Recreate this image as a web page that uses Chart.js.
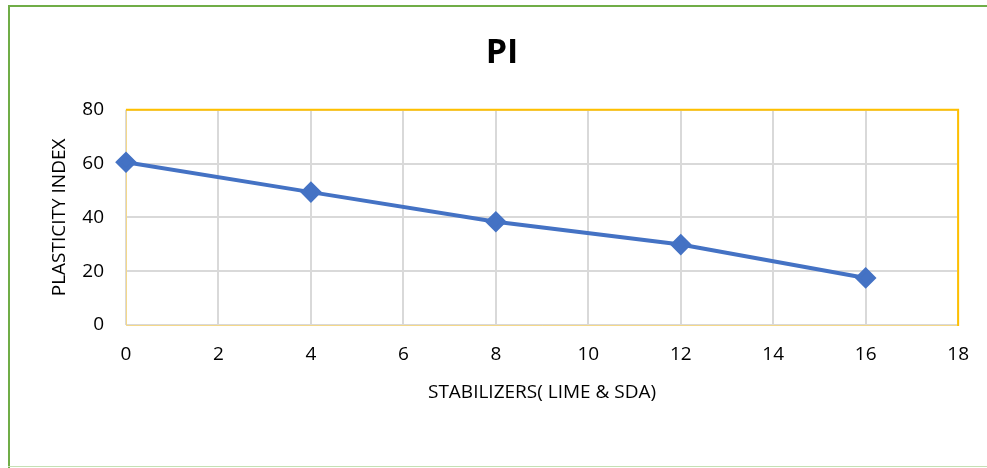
<!DOCTYPE html>
<html><head><meta charset="utf-8">
<script src="https://cdn.jsdelivr.net/npm/chart.js@4/dist/chart.umd.min.js"></script>
<style>html,body{margin:0;padding:0;background:#fff;}canvas{display:block;}</style>
</head><body>
<canvas id="c" width="987" height="468"></canvas>
<script>
const chartTitle = "PI";
const xAxisTitle = "STABILIZERS( LIME & SDA)";
const yAxisTitle = "PLASTICITY INDEX";
const stabilizers = [0, 4, 8, 12, 16];
const plasticityIndex = [60.5, 49.4, 38.4, 29.9, 17.5];
const xTicks = [0, 2, 4, 6, 8, 10, 12, 14, 16, 18];
const yTicks = [0, 20, 40, 60, 80];

const FONT = "'Open Sans', 'Noto Sans', sans-serif";

const framePlugin = {
  id: 'frame',
  beforeDraw(chart) {
    const ctx = chart.ctx;
    ctx.save();
    ctx.fillStyle = '#fff';
    ctx.fillRect(0, 0, chart.width, chart.height);
    ctx.fillStyle = '#70AD47';
    ctx.fillRect(8, 5, chart.width - 8, 2);
    ctx.fillRect(8, 5, 2, chart.height - 5);
    ctx.fillStyle = '#C5E0B4';
    ctx.fillRect(8, chart.height - 2, chart.width - 8, 1);
    ctx.restore();
  },
  beforeDatasetsDraw(chart) {
    const a = chart.chartArea;
    const ctx = chart.ctx;
    ctx.save();
    ctx.lineWidth = 1;
    ctx.strokeStyle = '#F4D88A';
    ctx.beginPath();
    ctx.moveTo(a.left + 0.5, a.top);
    ctx.lineTo(a.left + 0.5, a.bottom + 0.5);
    ctx.lineTo(a.right, a.bottom + 0.5);
    ctx.stroke();
    ctx.lineWidth = 2;
    ctx.strokeStyle = '#FFC000';
    ctx.beginPath();
    ctx.moveTo(a.left, a.top);
    ctx.lineTo(a.right, a.top);
    ctx.lineTo(a.right, a.bottom + 1);
    ctx.stroke();
    ctx.restore();
  }
};

new Chart(document.getElementById('c'), {
  type: 'line',
  data: {
    datasets: [{
      data: stabilizers.map((x, i) => ({x: x, y: plasticityIndex[i]})),
      borderColor: '#4472C4',
      backgroundColor: '#4472C4',
      borderWidth: 4,
      pointStyle: 'rectRot',
      pointRadius: 8,
      pointHoverRadius: 8,
      tension: 0,
      fill: false,
      clip: false
    }]
  },
  options: {
    responsive: false,
    animation: false,
    devicePixelRatio: 1,
    layout: { padding: { left: 44, right: 27, top: 0, bottom: 62 } },
    plugins: {
      legend: { display: false },
      tooltip: { enabled: false },
      title: {
        display: true,
        text: chartTitle,
        color: '#000',
        font: { family: FONT, size: 34, weight: 'bold' },
        padding: { top: 33, bottom: 36 }
      }
    },
    scales: {
      x: {
        type: 'linear',
        min: 0, max: 18,
        afterBuildTicks(scale) { scale.ticks = xTicks.map(v => ({value: v})); },
        afterFit(scale) { scale.height = 81; },
        border: { display: false },
        grid: { color: '#D9D9D9', lineWidth: 2, drawTicks: false },
        ticks: { color: '#000', font: { family: FONT, size: 19 }, padding: 18, maxRotation: 0 },
        title: { display: true, text: xAxisTitle, color: '#000', font: { family: FONT, size: 19 }, padding: { top: 8, bottom: 2 } }
      },
      y: {
        min: 0, max: 80,
        afterBuildTicks(scale) { scale.ticks = yTicks.map(v => ({value: v})); },
        afterFit(scale) { scale.width = 82; },
        border: { display: false },
        grid: { color: '#D9D9D9', lineWidth: 2, drawTicks: false },
        ticks: { color: '#000', font: { family: FONT, size: 19 }, padding: 22 },
        title: { display: true, text: yAxisTitle, color: '#000', font: { family: FONT, size: 19 }, padding: { top: 4 } }
      }
    }
  },
  plugins: [framePlugin]
});
</script>
</body></html>
